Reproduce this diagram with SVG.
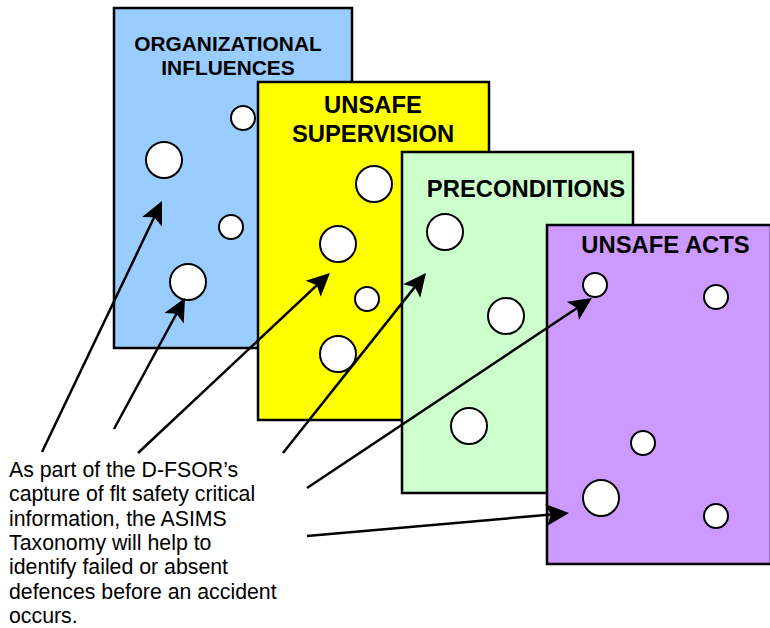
<svg xmlns="http://www.w3.org/2000/svg" width="770" height="628" viewBox="0 0 770 628">
<defs>
<style>
.box{stroke:#000;stroke-width:2.5}
.hole{fill:#fff;stroke:#000;stroke-width:2}
.title{font-family:"Liberation Sans",Arial,sans-serif;font-weight:bold;text-anchor:middle;fill:#000}
.para{font-family:"Liberation Sans",Arial,sans-serif;font-size:21.3px;fill:#000}
.conn{stroke:#000;stroke-width:2.5;fill:none;marker-end:url(#ah)}
</style>
<marker id="ah" markerUnits="userSpaceOnUse" orient="auto" refX="0" refY="0" markerWidth="40" markerHeight="40" overflow="visible">
<path d="M12,0 L-11,-11 L-6,0 L-11,11 Z" fill="#000"/>
</marker>
</defs>
<rect width="770" height="628" fill="#fff"/>
<g id="organizational-influences">
<rect class="box" x="114" y="8" width="238" height="340" fill="#99CCFF"/>
<text class="title" x="228" y="51" font-size="20.9">ORGANIZATIONAL</text>
<text class="title" x="228" y="75" font-size="20.9">INFLUENCES</text>
<circle class="hole" cx="243" cy="118" r="12"/>
<circle class="hole" cx="164" cy="160" r="18"/>
<circle class="hole" cx="231" cy="227" r="12"/>
<circle class="hole" cx="188" cy="282" r="18"/>
</g>
<g id="unsafe-supervision">
<rect class="box" x="258" y="82" width="231" height="338" fill="#FFFF00"/>
<text class="title" x="373" y="113" font-size="23.8">UNSAFE</text>
<text class="title" x="373" y="142" font-size="23.8">SUPERVISION</text>
<circle class="hole" cx="374" cy="184" r="18"/>
<circle class="hole" cx="338" cy="244" r="18"/>
<circle class="hole" cx="367" cy="299" r="12"/>
<circle class="hole" cx="338" cy="354" r="18"/>
</g>
<g id="preconditions">
<rect class="box" x="402" y="152" width="231" height="341" fill="#CCFFCC"/>
<text class="title" x="526" y="197" font-size="23.8">PRECONDITIONS</text>
<circle class="hole" cx="445" cy="232" r="18"/>
<circle class="hole" cx="506" cy="316" r="18"/>
<circle class="hole" cx="469" cy="426" r="18"/>
</g>
<g id="unsafe-acts">
<rect class="box" x="547" y="225" width="224" height="339" fill="#CC99FF"/>
<text class="title" x="665.5" y="253" font-size="23.8">UNSAFE ACTS</text>
<circle class="hole" cx="595" cy="285" r="12"/>
<circle class="hole" cx="716" cy="297" r="12"/>
<circle class="hole" cx="643" cy="443" r="12"/>
<circle class="hole" cx="601" cy="498" r="18"/>
<circle class="hole" cx="716" cy="516" r="12"/>
</g>
<g id="connectors">
<line class="conn" x1="42" y1="452" x2="156.8" y2="211.8"/>
<line class="conn" x1="114" y1="429" x2="179.3" y2="308.5"/>
<line class="conn" x1="138" y1="453" x2="321.2" y2="281.2"/>
<line class="conn" x1="283" y1="453" x2="418.5" y2="282.4"/>
<line class="conn" x1="307" y1="488" x2="582" y2="304.7"/>
<line class="conn" x1="307" y1="536" x2="557" y2="514"/>
</g>
<g id="caption">
<text class="para" x="9" y="477">As part of the D-FSOR’s</text>
<text class="para" x="9" y="501.3">capture of flt safety critical</text>
<text class="para" x="9" y="525.6">information, the ASIMS</text>
<text class="para" x="9" y="549.9">Taxonomy will help to</text>
<text class="para" x="9" y="574.2">identify failed or absent</text>
<text class="para" x="9" y="598.5">defences before an accident</text>
<text class="para" x="9" y="622.8">occurs.</text>
</g>
</svg>
